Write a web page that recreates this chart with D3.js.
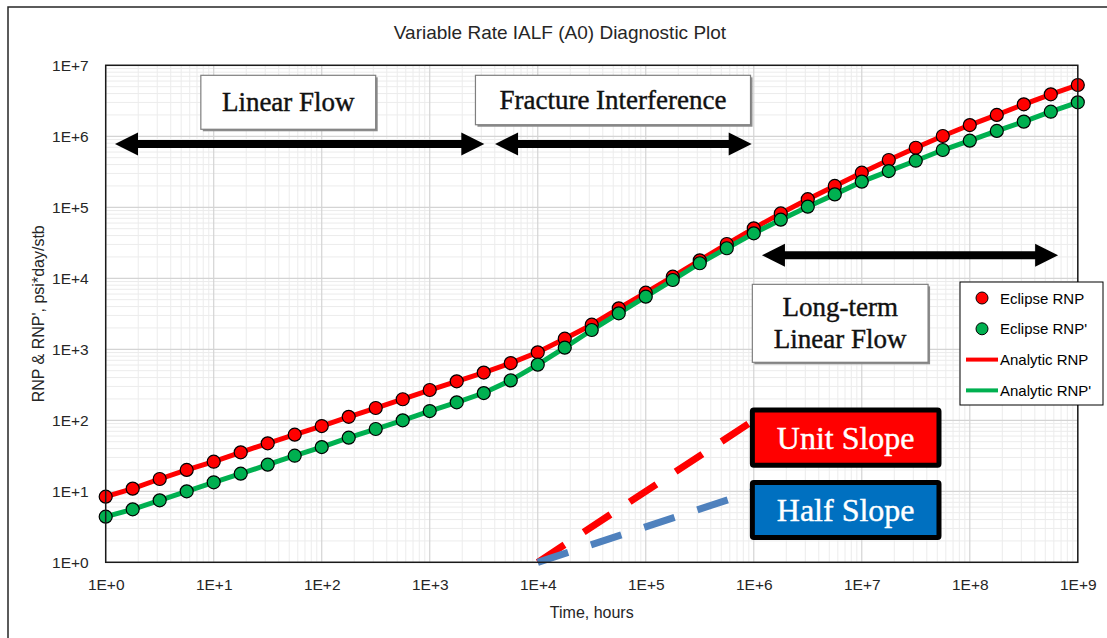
<!DOCTYPE html>
<html>
<head>
<meta charset="utf-8">
<script src="https://cdn.jsdelivr.net/npm/d3@7"></script>
<style>
  body { margin: 0; background: #fff; }
  svg { display: block; }
</style>
</head>
<body>
<div id="container"></div>
<script>
// time samples, 4 per decade
const timeHours = [1, 1.778, 3.162, 5.623, 10, 17.78, 31.62, 56.23, 100, 177.8, 316.2, 562.3,
  1000, 1778, 3162, 5623, 1e4, 17783, 31623, 56234, 1e5, 177828, 316228, 562341,
  1e6, 1.778e6, 3.162e6, 5.623e6, 1e7, 1.778e7, 3.162e7, 5.623e7,
  1e8, 1.778e8, 3.162e8, 5.623e8, 1e9];

// RNP (red) and RNP' (green)
const rnp = [8.4, 10.9, 14.9, 20, 26.1, 35.4, 47.4, 62.7, 83, 112, 149, 198,
  267, 354, 470, 640, 907, 1410, 2220, 3780, 6270, 10540, 17900, 30400,
  50600, 82000, 130000, 200000, 307000, 464000, 690000, 1.01e6,
  1.44e6, 2.0e6, 2.82e6, 3.9e6, 5.28e6];
const rnpDeriv = [4.39, 5.57, 7.46, 10, 13.4, 17.7, 23.7, 31.7, 42, 56.9, 75.4, 100,
  135, 179, 242, 365, 608, 1054, 1870, 3210, 5510, 9460, 16300, 26500,
  43000, 67000, 102000, 152000, 230000, 324000, 453000, 641000,
  867000, 1.19e6, 1.61e6, 2.22e6, 3.01e6];

const xTicks = [1, 10, 100, 1e3, 1e4, 1e5, 1e6, 1e7, 1e8, 1e9];
const xTickLabels = ["1E+0", "1E+1", "1E+2", "1E+3", "1E+4", "1E+5", "1E+6", "1E+7", "1E+8", "1E+9"];
const yTicks = [1, 10, 100, 1e3, 1e4, 1e5, 1e6, 1e7];
const yTickLabels = ["1E+0", "1E+1", "1E+2", "1E+3", "1E+4", "1E+5", "1E+6", "1E+7"];

// reference slope lines (time, value)
const unitSlope = [[1e4, 1], [1e6, 100]];
const halfSlope = [[1e4, 1], [1e6, 10]];

// flow-regime arrows: [t0, t1, value]
const regimeArrows = [[1.22, 3200, 7.8e5], [4025, 9.57e5, 7.8e5], [1.19e6, 6.57e8, 21100]];

// annotation boxes in data units: [t0, t1, vTop, vBottom]
const noteBoxes = [
  { lines: ["Linear Flow"], box: [7.6, 316, 7.23e6, 1.256e6] },
  { lines: ["Fracture Interference"], box: [2650, 9.33e5, 7.23e6, 1.455e6] },
  { lines: ["Long-term", "Linear Flow"], box: [9.7e5, 4.11e7, 8220, 656] }
];
const slopeBoxes = [
  { label: "Unit Slope", fill: "#ff0000", box: [9.2e5, 5.47e7, 152, 21.5] },
  { label: "Half Slope", fill: "#0070c0", box: [9.2e5, 5.47e7, 14.4, 2.06] }
];

const width = 1107, height = 638;
const plotLeft = 105.7, plotRight = 1077.8, plotTop = 65.3, plotBottom = 562.3;

const svg = d3.select("#container").append("svg")
  .attr("width", width).attr("height", height);

// outer chart frame (only top/left visible)
svg.append("rect")
  .attr("x", 8).attr("y", 7).attr("width", width + 20).attr("height", height + 20)
  .attr("fill", "#fff").attr("stroke", "#262626").attr("stroke-width", 1.5);

const x = d3.scaleLog().domain([1, 1e9]).range([plotLeft, plotRight]);
const y = d3.scaleLog().domain([1, 1e7]).range([plotBottom, plotTop]);

// gridlines
const grid = svg.append("g");
const minorX = [], minorY = [];
for (let d = 0; d < 9; d++) for (let m = 2; m <= 9; m++) minorX.push(m * Math.pow(10, d));
for (let d = 0; d < 7; d++) for (let m = 2; m <= 9; m++) minorY.push(m * Math.pow(10, d));

grid.selectAll(".mx").data(minorX).join("line")
  .attr("x1", d => x(d)).attr("x2", d => x(d)).attr("y1", plotTop).attr("y2", plotBottom)
  .attr("stroke", "#ececec").attr("stroke-width", 1);
grid.selectAll(".my").data(minorY).join("line")
  .attr("y1", d => y(d)).attr("y2", d => y(d)).attr("x1", plotLeft).attr("x2", plotRight)
  .attr("stroke", "#ececec").attr("stroke-width", 1);
grid.selectAll(".gx").data(xTicks).join("line")
  .attr("x1", d => x(d)).attr("x2", d => x(d)).attr("y1", plotTop).attr("y2", plotBottom)
  .attr("stroke", "#d4d4d4").attr("stroke-width", 1.2);
grid.selectAll(".gy").data(yTicks).join("line")
  .attr("y1", d => y(d)).attr("y2", d => y(d)).attr("x1", plotLeft).attr("x2", plotRight)
  .attr("stroke", "#d4d4d4").attr("stroke-width", 1.2);

// axes
const xAxis = svg.append("g")
  .attr("transform", `translate(0,${plotBottom})`)
  .call(d3.axisBottom(x).tickValues(xTicks).tickSize(0).tickPadding(17)
    .tickFormat((d, i) => xTickLabels[i]));
const yAxis = svg.append("g")
  .attr("transform", `translate(${plotLeft},0)`)
  .call(d3.axisLeft(y).tickValues(yTicks).tickSize(0).tickPadding(17)
    .tickFormat((d, i) => yTickLabels[i]));
[xAxis, yAxis].forEach(a => {
  a.select(".domain").remove();
  a.selectAll("text").attr("font-family", "Liberation Sans, Arial, sans-serif")
    .attr("font-size", 15.5).attr("fill", "#262626");
});

svg.append("text")
  .attr("x", (plotLeft + plotRight) / 2).attr("y", 618)
  .attr("text-anchor", "middle")
  .attr("font-family", "Liberation Sans, Arial, sans-serif").attr("font-size", 16)
  .attr("fill", "#262626").text("Time, hours");

svg.append("text")
  .attr("transform", `translate(44,${(plotTop + plotBottom) / 2}) rotate(-90)`)
  .attr("text-anchor", "middle")
  .attr("font-family", "Liberation Sans, Arial, sans-serif").attr("font-size", 16)
  .attr("fill", "#262626").text("RNP & RNP', psi*day/stb");

svg.append("text")
  .attr("x", 560).attr("y", 39)
  .attr("text-anchor", "middle")
  .attr("font-family", "Liberation Sans, Arial, sans-serif").attr("font-size", 19)
  .attr("fill", "#262626").text("Variable Rate IALF (A0) Diagnostic Plot");

// slope reference lines
const slopeLine = d3.line().x(d => x(d[0])).y(d => y(d[1]));
svg.append("path").datum(unitSlope)
  .attr("d", slopeLine).attr("fill", "none")
  .attr("stroke", "#ff0000").attr("stroke-width", 7).attr("stroke-dasharray", "32 23");
svg.append("path").datum(halfSlope)
  .attr("d", slopeLine).attr("fill", "none")
  .attr("stroke", "#4f81bd").attr("stroke-width", 7).attr("stroke-dasharray", "32 24");

// series lines
const rows = timeHours.map((t, i) => ({ t, rnp: rnp[i], der: rnpDeriv[i] }));
const lineRnp = d3.line().x(d => x(d.t)).y(d => y(d.rnp));
const lineDer = d3.line().x(d => x(d.t)).y(d => y(d.der));

svg.append("path").datum(rows).attr("d", lineRnp)
  .attr("fill", "none").attr("stroke", "#ff0000").attr("stroke-width", 5);
svg.append("path").datum(rows).attr("d", lineDer)
  .attr("fill", "none").attr("stroke", "#00b050").attr("stroke-width", 5);

svg.append("g").selectAll("circle").data(rows).join("circle")
  .attr("cx", d => x(d.t)).attr("cy", d => y(d.rnp)).attr("r", 6.5)
  .attr("fill", "#ff0000").attr("stroke", "#000").attr("stroke-width", 1.2);
svg.append("g").selectAll("circle").data(rows).join("circle")
  .attr("cx", d => x(d.t)).attr("cy", d => y(d.der)).attr("r", 6.5)
  .attr("fill", "#00b050").attr("stroke", "#000").attr("stroke-width", 1.2);

// plot border
svg.append("rect")
  .attr("x", plotLeft).attr("y", plotTop).attr("width", plotRight - plotLeft).attr("height", plotBottom - plotTop)
  .attr("fill", "none").attr("stroke", "#1a1a1a").attr("stroke-width", 1.5);

// regime arrows
const headLen = 23, headHalf = 11.5;
regimeArrows.forEach(([t0, t1, v]) => {
  const x0 = x(t0), x1 = x(t1), yy = y(v);
  svg.append("line")
    .attr("x1", x0 + headLen - 2).attr("x2", x1 - headLen + 2).attr("y1", yy).attr("y2", yy)
    .attr("stroke", "#000").attr("stroke-width", 8);
  svg.append("path")
    .attr("d", `M${x0},${yy}L${x0 + headLen},${yy - headHalf}L${x0 + headLen},${yy + headHalf}Z`)
    .attr("fill", "#000");
  svg.append("path")
    .attr("d", `M${x1},${yy}L${x1 - headLen},${yy - headHalf}L${x1 - headLen},${yy + headHalf}Z`)
    .attr("fill", "#000");
});

// note boxes
noteBoxes.forEach(n => {
  const [t0, t1, vt, vb] = n.box;
  const bx = x(t0), bw = x(t1) - x(t0), by = y(vt), bh = y(vb) - y(vt);
  const g = svg.append("g");
  g.append("rect").attr("x", bx + 2).attr("y", by + 2).attr("width", bw).attr("height", bh)
    .attr("fill", "#8c8c8c");
  g.append("rect").attr("x", bx).attr("y", by).attr("width", bw).attr("height", bh)
    .attr("fill", "#fff").attr("stroke", "#7f7f7f").attr("stroke-width", 1.2);
  const lh = 32;
  const firstBase = by + bh / 2 - (n.lines.length - 1) * lh / 2 + 9;
  n.lines.forEach((s, i) => {
    g.append("text")
      .attr("x", bx + bw / 2).attr("y", firstBase + i * lh)
      .attr("text-anchor", "middle")
      .attr("font-family", "Liberation Serif, Times New Roman, serif")
      .attr("font-size", 27).attr("fill", "#111")
      .attr("stroke", "#111").attr("stroke-width", 0.4).text(s);
  });
});

// slope label boxes
slopeBoxes.forEach(s => {
  const [t0, t1, vt, vb] = s.box;
  const bx = x(t0), bw = x(t1) - x(t0), by = y(vt), bh = y(vb) - y(vt);
  svg.append("rect").attr("x", bx + 2.5).attr("y", by + 2.5)
    .attr("width", bw - 5).attr("height", bh - 5).attr("rx", 1.5)
    .attr("fill", s.fill).attr("stroke", "#000").attr("stroke-width", 5);
  svg.append("text")
    .attr("x", bx + bw / 2).attr("y", by + bh / 2 + 11)
    .attr("text-anchor", "middle")
    .attr("font-family", "Liberation Serif, Times New Roman, serif")
    .attr("font-size", 32).attr("fill", "#fff")
    .attr("stroke", "#fff").attr("stroke-width", 0.4).text(s.label);
});

// legend
const legendItems = [
  { name: "Eclipse RNP", color: "#ff0000", kind: "dot" },
  { name: "Eclipse RNP'", color: "#00b050", kind: "dot" },
  { name: "Analytic RNP", color: "#ff0000", kind: "line" },
  { name: "Analytic RNP'", color: "#00b050", kind: "line" }
];
const lg = svg.append("g").attr("transform", "translate(960,282)");
lg.append("rect").attr("width", 143).attr("height", 123)
  .attr("fill", "#fff").attr("stroke", "#000").attr("stroke-width", 1);
legendItems.forEach((d, i) => {
  const cy = 16 + i * 30.8;
  if (d.kind === "dot") {
    lg.append("circle").attr("cx", 22).attr("cy", cy).attr("r", 6)
      .attr("fill", d.color).attr("stroke", "#000").attr("stroke-width", 1);
  } else {
    lg.append("line").attr("x1", 6).attr("x2", 38).attr("y1", cy).attr("y2", cy)
      .attr("stroke", d.color).attr("stroke-width", 4);
  }
  lg.append("text").attr("x", 40).attr("y", cy + 5.5)
    .attr("font-family", "Liberation Sans, Arial, sans-serif").attr("font-size", 15)
    .attr("fill", "#000").text(d.name);
});
</script>
</body>
</html>
